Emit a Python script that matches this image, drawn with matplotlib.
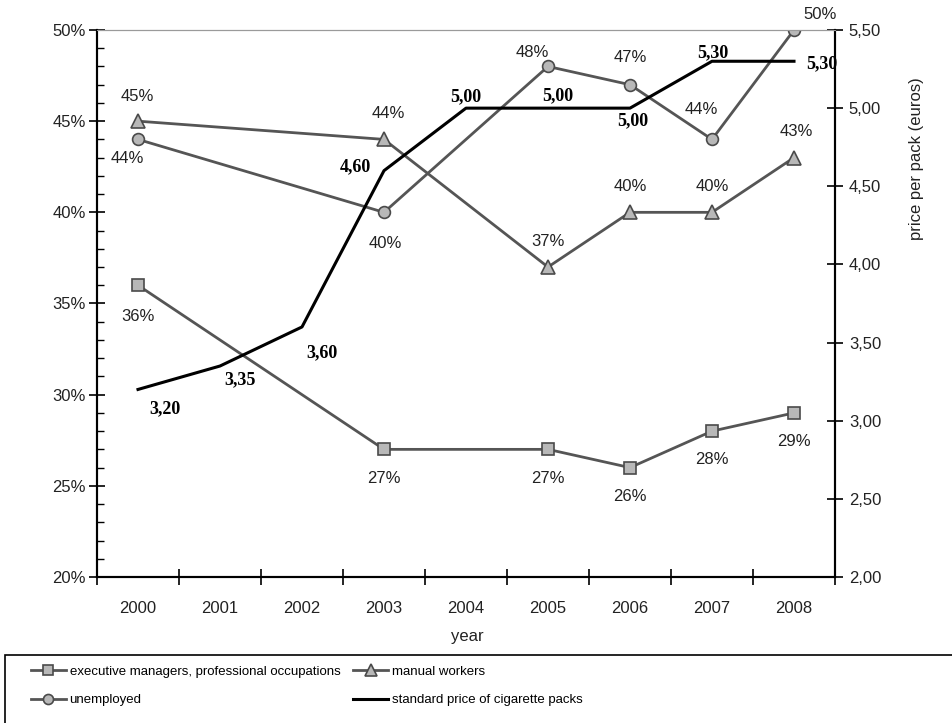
import matplotlib
matplotlib.use('Agg')
import matplotlib.pyplot as plt
from matplotlib.patches import Rectangle
from matplotlib.ticker import FuncFormatter, MultipleLocator, FixedLocator

# data
years = ['2000', '2001', '2002', '2003', '2004', '2005', '2006', '2007', '2008']
survey_years = ['2000', '2003', '2005', '2006', '2007', '2008']
executives = [36, 27, 27, 26, 28, 29]
manual_workers = [45, 44, 37, 40, 40, 43]
unemployed = [44, 40, 48, 47, 44, 50]
price = [3.20, 3.35, 3.60, 4.60, 5.00, 5.00, 5.00, 5.30, 5.30]

# label offsets in pixels (dx, dy) for each point
exec_off = [(0, -31), (0, -29), (0, -29), (0, -29), (0, -28), (0, -29)]
manual_off = [(-1, 25), (4, 26), (0, 26), (0, 26), (0, 26), (2, 26)]
unemp_off = [(-11, -19), (1, -31), (-16, 14), (0, 27), (-11, 30), (26, 15)]
price_off = [(27, -19), (20, -14), (20, -26), (-29, 4), (0, 11), (10, 12),
             (3, -13), (1, 9), (28, -2)]

LINE = '#555555'
FILL = '#b8b8b8'
EDGE = '#4a4a4a'
SANS = ['Liberation Sans', 'DejaVu Sans']
SERIF = ['Liberation Serif', 'DejaVu Serif']

plt.rcParams['font.family'] = SANS

fig = plt.figure(figsize=(9.52, 7.23), dpi=100)
ax = fig.add_axes([97 / 952, 1 - 577 / 723, (835 - 97) / 952, (577 - 30) / 723])
ax2 = ax.twinx()

xpos = {y: i + 0.5 for i, y in enumerate(years)}
sx = [xpos[y] for y in survey_years]
px = [xpos[y] for y in years]

l_exec, = ax.plot(sx, executives, color=LINE, lw=2, marker='s', ms=9,
                  mfc=FILL, mec=EDGE, mew=1.2, zorder=3)
l_man, = ax.plot(sx, manual_workers, color=LINE, lw=2, marker='^', ms=10,
                 mfc=FILL, mec=EDGE, mew=1.2, zorder=3)
l_une, = ax.plot(sx, unemployed, color=LINE, lw=2, marker='o', ms=8.5,
                 mfc=FILL, mec=EDGE, mew=1.2, zorder=3)
l_price, = ax2.plot(px, price, color='black', lw=2.2, zorder=4)

for series, offs in ((executives, exec_off), (manual_workers, manual_off), (unemployed, unemp_off)):
    for x, v, (dx, dy) in zip(sx, series, offs):
        ax.annotate(f'{v}%', (x, v), xytext=(dx, dy), textcoords='offset pixels',
                    ha='center', va='center', fontsize=12, color='#222222',
                    family=SANS, annotation_clip=False)

for x, v, (dx, dy) in zip(px, price, price_off):
    ax2.annotate(f'{v:.2f}'.replace('.', ','), (x, v), xytext=(dx, dy),
                 textcoords='offset pixels', ha='center', va='center',
                 fontsize=13, fontweight='bold', family=SERIF, color='black',
                 annotation_clip=False)

# axes limits and ticks
ax.set_xlim(0, len(years))
ax.set_ylim(20, 50)
ax2.set_ylim(2.0, 5.5)

ax.xaxis.set_major_locator(FixedLocator(range(len(years) + 1)))
ax.xaxis.set_minor_locator(FixedLocator(px))
ax.xaxis.set_major_formatter(FuncFormatter(lambda v, p: ''))
ax.xaxis.set_minor_formatter(FuncFormatter(lambda v, p: years[int(v)]))
ax.tick_params(axis='x', which='major', direction='inout', length=12, width=1.2)
ax.tick_params(axis='x', which='minor', length=0, pad=17, labelsize=12, labelcolor='#222222')

ax.yaxis.set_major_locator(MultipleLocator(5))
ax.yaxis.set_minor_locator(MultipleLocator(1))
ax.yaxis.set_major_formatter(FuncFormatter(lambda v, p: f'{v:.0f}%'))
ax.tick_params(axis='y', which='major', direction='inout', length=12, width=1.2,
               labelsize=12, pad=2, labelcolor='#222222')
ax.tick_params(axis='y', which='minor', direction='in', length=5, width=1)

ax2.yaxis.set_major_locator(MultipleLocator(0.5))
ax2.yaxis.set_major_formatter(FuncFormatter(lambda v, p: f'{v:.2f}'.replace('.', ',')))
ax2.tick_params(axis='y', direction='inout', length=12, width=1.2, labelsize=12, pad=4,
                labelcolor='#222222')

for a in (ax, ax2):
    a.spines['top'].set_color('#9a9a9a')
    a.spines['top'].set_linewidth(0.8)
    for s in ('left', 'right', 'bottom'):
        a.spines[s].set_linewidth(1.5)
        a.spines[s].set_color('black')

fig.text(467 / 952, 1 - 636 / 723, 'year', ha='center', va='center', fontsize=12,
         color='#222222')
fig.text(917 / 952, 1 - 159 / 723, 'price per pack (euros)', rotation=90,
         ha='center', va='center', fontsize=12, color='#222222')

# legend (box runs off the right and bottom edge like the source image)
fig.add_artist(Rectangle((5 / 952, -0.02), 1.1, (723 - 655) / 723 + 0.02,
                         transform=fig.transFigure, fill=False, lw=1.2,
                         edgecolor='black'))
fig.legend([l_exec, l_une, l_man, l_price],
           ['executive managers, professional occupations', 'unemployed',
            'manual workers', 'standard price of cigarette packs'],
           ncol=2, loc='upper left', bbox_to_anchor=(26 / 952, 1 - 660 / 723),
           frameon=False, prop={'family': SANS, 'size': 9.5},
           handlelength=2.6, handletextpad=0.3, columnspacing=1.0,
           labelspacing=1.25, markerscale=0.85, borderaxespad=0)

fig.savefig('out.png', dpi=100)
